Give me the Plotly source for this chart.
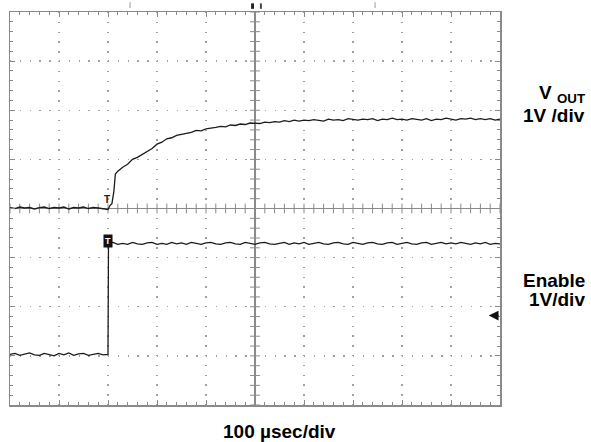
import plotly.graph_objects as go

# ---- data (time in microseconds relative to screen centre, amplitude in divisions) ----
vout_time = list(range(-500, -300, 10)) + [-300, -296, -292, -288, -285, -280] + list(range(-270, 501, 10))
vout_div = [0.02, 0.0, 0.03, 0.01, 0.02, -0.01, 0.02, 0.03, 0.0, 0.02,
            0.01, 0.03, -0.01, 0.02, 0.01, 0.03, 0.0, 0.02, 0.01, 0.0,
            -0.02, 0.06, 0.10, 0.35, 0.70, 0.76,
            0.84, 0.90, 1.00, 1.04, 1.10, 1.17, 1.22, 1.31, 1.35, 1.42,
            1.44, 1.49, 1.51, 1.54, 1.55, 1.59, 1.58, 1.62, 1.63, 1.65,
            1.67, 1.66, 1.70, 1.69, 1.72, 1.71, 1.74, 1.73,
            1.73, 1.76, 1.75, 1.77, 1.76, 1.79, 1.77, 1.80, 1.78, 1.80,
            1.79, 1.81, 1.80, 1.78, 1.82, 1.80, 1.81, 1.79, 1.83, 1.81,
            1.80, 1.82, 1.81, 1.83, 1.79, 1.82, 1.81, 1.84, 1.81, 1.82,
            1.80, 1.83, 1.82, 1.80, 1.83, 1.79, 1.82, 1.81, 1.84, 1.82,
            1.80, 1.83, 1.82, 1.84, 1.81, 1.83, 1.81, 1.83, 1.80, 1.82]

enable_time = list(range(-500, -299, 10)) + [-299] + list(range(-290, 501, 10))
enable_div = [-2.97, -2.95, -2.99, -2.96, -2.94, -2.98, -2.99, -2.95, -2.97, -3.00,
              -2.95, -2.98, -2.94, -2.99, -2.96, -2.95, -2.99, -2.97, -2.95, -2.98, -2.97,
              -0.70,
              -0.69, -0.73, -0.71, -0.73, -0.69, -0.72, -0.73, -0.70, -0.69, -0.73,
              -0.71, -0.73, -0.69, -0.72, -0.70, -0.73, -0.69, -0.71, -0.73, -0.70,
              -0.69, -0.72, -0.73, -0.70, -0.69, -0.72, -0.73, -0.69, -0.71, -0.73,
              -0.70, -0.69, -0.72, -0.73, -0.71, -0.69, -0.73, -0.70, -0.72, -0.69,
              -0.73, -0.71, -0.69, -0.72, -0.73, -0.70, -0.69, -0.72, -0.73, -0.69,
              -0.71, -0.73, -0.70, -0.69, -0.72, -0.73, -0.70, -0.69, -0.73, -0.71,
              -0.69, -0.72, -0.73, -0.70, -0.69, -0.73, -0.71, -0.69, -0.72, -0.70,
              -0.72, -0.69, -0.71, -0.73, -0.70, -0.72, -0.69, -0.73, -0.71, -0.72]

x_range = [-500, 500]
y_range = [-4, 4]
x_minor = 20
y_minor = 0.2

GRID = "#a0a0a0"
FRAME = "#8a8a8a"
TRACE = "#1c1c1c"

fig = go.Figure()

# centre-cross tick marks (scope graticule)
cx = [x_range[0] + i * x_minor for i in range(int((x_range[1] - x_range[0]) / x_minor) + 1)]
cy = [y_range[0] + i * y_minor for i in range(int(round((y_range[1] - y_range[0]) / y_minor)) + 1)]
fig.add_trace(go.Scatter(x=cx, y=[0] * len(cx), mode="markers", hoverinfo="skip",
                         marker=dict(symbol="line-ns", size=7, line=dict(width=1, color=FRAME))))
fig.add_trace(go.Scatter(x=[0] * len(cy), y=cy, mode="markers", hoverinfo="skip",
                         marker=dict(symbol="line-ew", size=7, line=dict(width=1, color=FRAME))))

fig.add_trace(go.Scatter(x=vout_time, y=vout_div, mode="lines",
                         line=dict(color=TRACE, width=1.3), name="VOUT"))
fig.add_trace(go.Scatter(x=enable_time, y=enable_div, mode="lines",
                         line=dict(color=TRACE, width=1.3), name="Enable"))

axis_common = dict(showline=True, linecolor=FRAME, linewidth=1.5, mirror="ticks",
                   ticks="inside", ticklen=5, tickcolor=FRAME, tickwidth=1,
                   showticklabels=False, showgrid=True, gridcolor=GRID, gridwidth=1.3,
                   zeroline=True, zerolinecolor=FRAME, zerolinewidth=1.2, fixedrange=True)

fig.update_xaxes(range=x_range, dtick=100, tick0=-500,
                 minor=dict(dtick=x_minor, ticks="inside", ticklen=3, tickcolor=FRAME, showgrid=False),
                 griddash="1.3px,8.5px", **axis_common)
fig.update_yaxes(range=y_range, dtick=1, tick0=-4,
                 minor=dict(dtick=y_minor, ticks="inside", ticklen=3, tickcolor=FRAME, showgrid=False),
                 griddash="1.3px,8.5px", **axis_common)

FONT = "Liberation Sans, Arial, sans-serif"
ann = [
    dict(x=0.551, y=-0.068, xref="paper", yref="paper", text="<b>100 µsec/div</b>",
         showarrow=False, xanchor="center", yanchor="middle", font=dict(size=19, color="black", family=FONT)),
    dict(x=1.1776, y=0.792, xref="paper", yref="paper", text="<b>V <sub>OUT</sub></b>",
         showarrow=False, xanchor="right", yanchor="middle", font=dict(size=19, color="black", family=FONT)),
    dict(x=1.1776, y=0.737, xref="paper", yref="paper", text="<b>1V /div</b>",
         showarrow=False, xanchor="right", yanchor="middle", font=dict(size=19, color="black", family=FONT)),
    dict(x=1.1776, y=0.318, xref="paper", yref="paper", text="<b>Enable</b>",
         showarrow=False, xanchor="right", yanchor="middle", font=dict(size=19, color="black", family=FONT)),
    dict(x=1.1776, y=0.268, xref="paper", yref="paper", text="<b>1V/div</b>",
         showarrow=False, xanchor="right", yanchor="middle", font=dict(size=19, color="black", family=FONT)),
    # trigger marker on Enable trace
    dict(x=-300, y=-0.67, xref="x", yref="y", text="<b>T</b>", showarrow=False,
         font=dict(size=9, color="white", family=FONT), bgcolor="#111111", borderpad=1),
    # small trigger mark on Vout trace
    dict(x=-302, y=0.18, xref="x", yref="y", text="<b>T</b>", showarrow=False,
         font=dict(size=10, color="#222222", family=FONT)),
    # ground-level arrow at right edge
    dict(x=477, y=-2.18, xref="x", yref="y", ax=500, ay=-2.18, axref="x", ayref="y",
         text="", showarrow=True, arrowhead=2, arrowsize=1.3, arrowwidth=1.5, arrowcolor="#111111"),
]
fig.update_layout(annotations=ann)

# small marks above the graticule
shapes = [
    dict(type="line", xref="x", yref="paper", x0=-255, x1=-255, y0=1.01, y1=1.025,
         line=dict(color="#999999", width=1)),
    dict(type="line", xref="x", yref="paper", x0=245, x1=245, y0=1.01, y1=1.025,
         line=dict(color="#999999", width=1)),
    dict(type="rect", xref="x", yref="paper", x0=-8, x1=-2, y0=1.008, y1=1.022,
         fillcolor="#222222", line=dict(width=0)),
    dict(type="rect", xref="x", yref="paper", x0=10, x1=14, y0=1.008, y1=1.022,
         fillcolor="#444444", line=dict(width=0)),
]
fig.update_layout(shapes=shapes)

fig.update_layout(width=591, height=442, margin=dict(l=10, r=91, t=10, b=37),
                  paper_bgcolor="white", plot_bgcolor="white", showlegend=False)

fig.write_html("out.html", config={"displayModeBar": False, "staticPlot": True},
               post_script="document.body.style.margin='0';document.body.style.padding='0';"
                           "document.body.style.overflow='hidden';")
